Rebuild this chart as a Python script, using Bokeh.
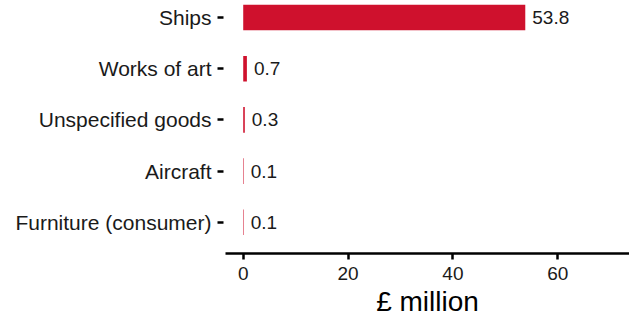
from bokeh.plotting import figure
from bokeh.models import ColumnDataSource, Range1d, FixedTicker
from bokeh.core.properties import value
from bokeh.embed import file_html
from bokeh.resources import INLINE

# data (top to bottom in the chart)
categories = ["Ships", "Works of art", "Unspecified goods", "Aircraft", "Furniture (consumer)"]
values_gbp_m = [53.8, 0.7, 0.3, 0.1, 0.1]
x_ticks = [0, 20, 40, 60]

FONT = "Liberation Sans"
BAR = "#cf112d"
INK = "#1a1a1a"

n = len(categories)
ys = [n - 1 - i for i in range(n)]
src = ColumnDataSource(dict(
    y=ys,
    v=values_gbp_m,
    lab=[f"{v:.1f}" for v in values_gbp_m],
))

p = figure(width=629, height=319, output_backend="svg", toolbar_location=None,
           x_range=Range1d(-3.38, 73.68), y_range=Range1d(-0.61, n - 1 + 0.333),
           min_border_left=225, min_border_right=0, min_border_top=0, min_border_bottom=20)

p.hbar(y="y", left=0, right="v", height=0.5, source=src, fill_color=BAR, line_color=None)
p.text(x="v", y="y", text="lab", source=src, x_offset=7, text_baseline="middle",
       text_align="left", text_font=value(FONT), text_font_size="19px", text_color=INK)

p.xgrid.visible = False
p.ygrid.visible = False
p.outline_line_color = None
p.background_fill_color = "white"
p.border_fill_color = "white"

xa = p.xaxis[0]
xa.ticker = FixedTicker(ticks=x_ticks)
xa.minor_tick_line_color = None
xa.axis_line_width = 2.5
xa.axis_line_color = "black"
xa.major_tick_line_width = 2.5
xa.major_tick_line_color = "black"
xa.major_tick_in = 0
xa.major_tick_out = 6
xa.major_label_standoff = 7
xa.major_label_text_font = FONT
xa.major_label_text_font_size = "19px"
xa.major_label_text_color = INK
xa.axis_label = "£ million"
xa.axis_label_text_font = FONT
xa.axis_label_text_font_size = "28px"
xa.axis_label_text_font_style = "normal"
xa.axis_label_text_color = "black"
xa.axis_label_standoff = 3

ya = p.yaxis[0]
ya.ticker = FixedTicker(ticks=ys)
ya.major_label_overrides = {y: c for y, c in zip(ys, categories)}
ya.minor_tick_line_color = None
ya.axis_line_color = None
ya.major_tick_line_width = 2.5
ya.major_tick_line_color = "black"
ya.major_tick_in = -2
ya.major_tick_out = 8
ya.major_label_standoff = 6
ya.major_label_text_font = FONT
ya.major_label_text_font_size = "21px"
ya.major_label_text_color = INK

open("out.html", "w").write(file_html(p, INLINE))
